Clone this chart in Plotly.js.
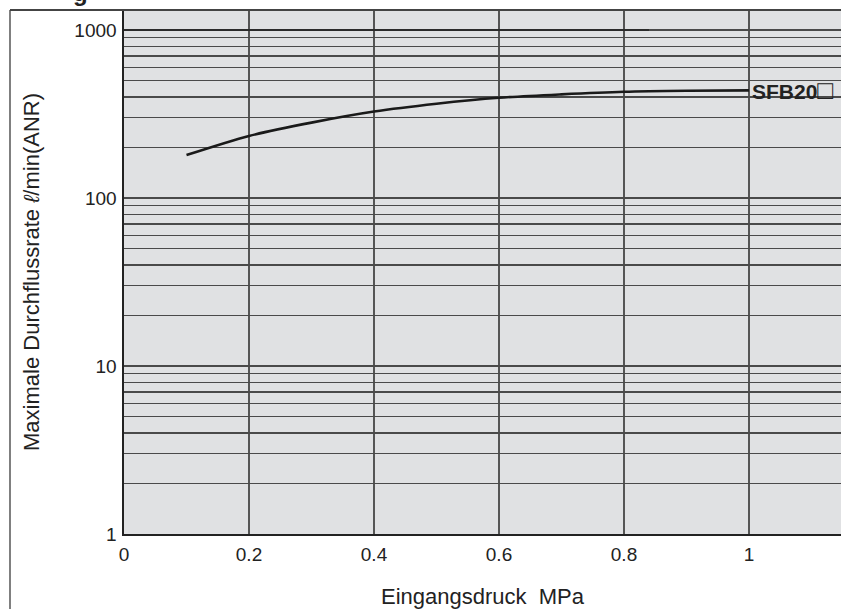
<!DOCTYPE html>
<html>
<head>
<meta charset="utf-8">
<script src="https://cdn.plot.ly/plotly-3.0.1.min.js"></script>
<style>
  html, body { margin: 0; padding: 0; background: #ffffff; }
  #chart { width: 841px; height: 609px; }
</style>
</head>
<body>
<div id="chart"></div>
<script>
// Inlet pressure (MPa) and maximum flow rate (l/min ANR) for SFB20
const pressure = [0.1, 0.2, 0.3, 0.4, 0.5, 0.6, 0.7, 0.8, 0.9, 1.0];
const flowSFB20 = [180, 234, 281, 327, 364, 395, 414, 429, 435, 437];
const seriesName = 'SFB20';

// Reference segment along the 1000 line
const refX = [0, 0.84];
const refY = [1000, 1000];

// Log-axis grid positions and labels
const yGridVals = [1,2,3,4,5,6,7,8,9,10,20,30,40,50,60,70,80,90,100,200,300,400,500,600,700,800,900,1000];
const yLabelVals = [1, 10, 100, 1000];
const xTickVals = [0, 0.2, 0.4, 0.6, 0.8, 1];
const xTickText = ['0', '0.2', '0.4', '0.6', '0.8', '1'];

const yTickText = yGridVals.map(v => yLabelVals.includes(v) ? String(v) : '');

const traces = [
  {
    x: refX, y: refY, mode: 'lines', type: 'scatter',
    line: { color: '#222222', width: 1.5 },
    hoverinfo: 'skip', showlegend: false
  },
  {
    x: pressure, y: flowSFB20, mode: 'lines', type: 'scatter',
    line: { color: '#1a1a1a', width: 2.6, shape: 'spline', smoothing: 0.8 },
    name: seriesName, showlegend: false
  }
];

const font = 'Liberation Sans, Arial, Helvetica, sans-serif';

const layout = {
  width: 841, height: 609,
  margin: { l: 124, r: 0, t: 10, b: 75 },
  paper_bgcolor: '#ffffff',
  plot_bgcolor: '#e0e1e3',
  font: { family: font, color: '#222222', size: 19 },
  xaxis: {
    range: [0, 1.1472],
    tickvals: xTickVals, ticktext: xTickText,
    showgrid: true, gridcolor: '#555555', gridwidth: 1.4,
    zeroline: false,
    showline: true, linecolor: '#222222', linewidth: 1.6,
    ticks: '', ticklabelstandoff: 3,
    tickfont: { size: 19, family: font, color: '#222222' },
    title: { text: 'Eingangsdruck  MPa', font: { size: 22, family: font, color: '#222222' }, standoff: 24 }
  },
  yaxis: {
    type: 'log',
    range: [0, 3.119],
    tickvals: yGridVals, ticktext: yTickText,
    showgrid: true, gridcolor: '#4a4a4a', gridwidth: 1.3,
    zeroline: false,
    showline: true, linecolor: '#222222', linewidth: 1.6,
    ticks: '', ticklabelstandoff: 2,
    tickfont: { size: 19, family: font, color: '#222222' },
    title: { text: 'Maximale Durchflussrate <i>\u2113</i>/min(ANR)', font: { size: 22, family: font, color: '#222222' }, standoff: 28 }
  },
  shapes: [
    { type: 'line', xref: 'paper', yref: 'paper', x0: -0.159, x1: -0.159, y0: 1, y1: -0.2, line: { color: '#555555', width: 1.5 } },
    { type: 'line', xref: 'paper', yref: 'paper', x0: -0.159, x1: 1, y0: 1, y1: 1, line: { color: '#444444', width: 1.8 } }
  ],
  annotations: [
    {
      x: 1.0, y: Math.log10(flowSFB20[flowSFB20.length - 1]), xref: 'x', yref: 'y',
      text: '<b>' + seriesName + '</b><span style="font-size:26px">\u25A1</span>', showarrow: false,
      xanchor: 'left', yanchor: 'middle', xshift: 1,
      font: { size: 21, family: font, color: '#222222' }
    },
    {
      x: (80 - 124) / 717, y: 1 + (10 - 8) / 524, xref: 'paper', yref: 'paper',
      text: '<b>g</b>', showarrow: false, xanchor: 'center', yanchor: 'bottom',
      font: { size: 24, family: font, color: '#222222' }
    }
  ]
};

Plotly.newPlot('chart', traces, layout, { displayModeBar: false, staticPlot: true });
</script>
</body>
</html>
